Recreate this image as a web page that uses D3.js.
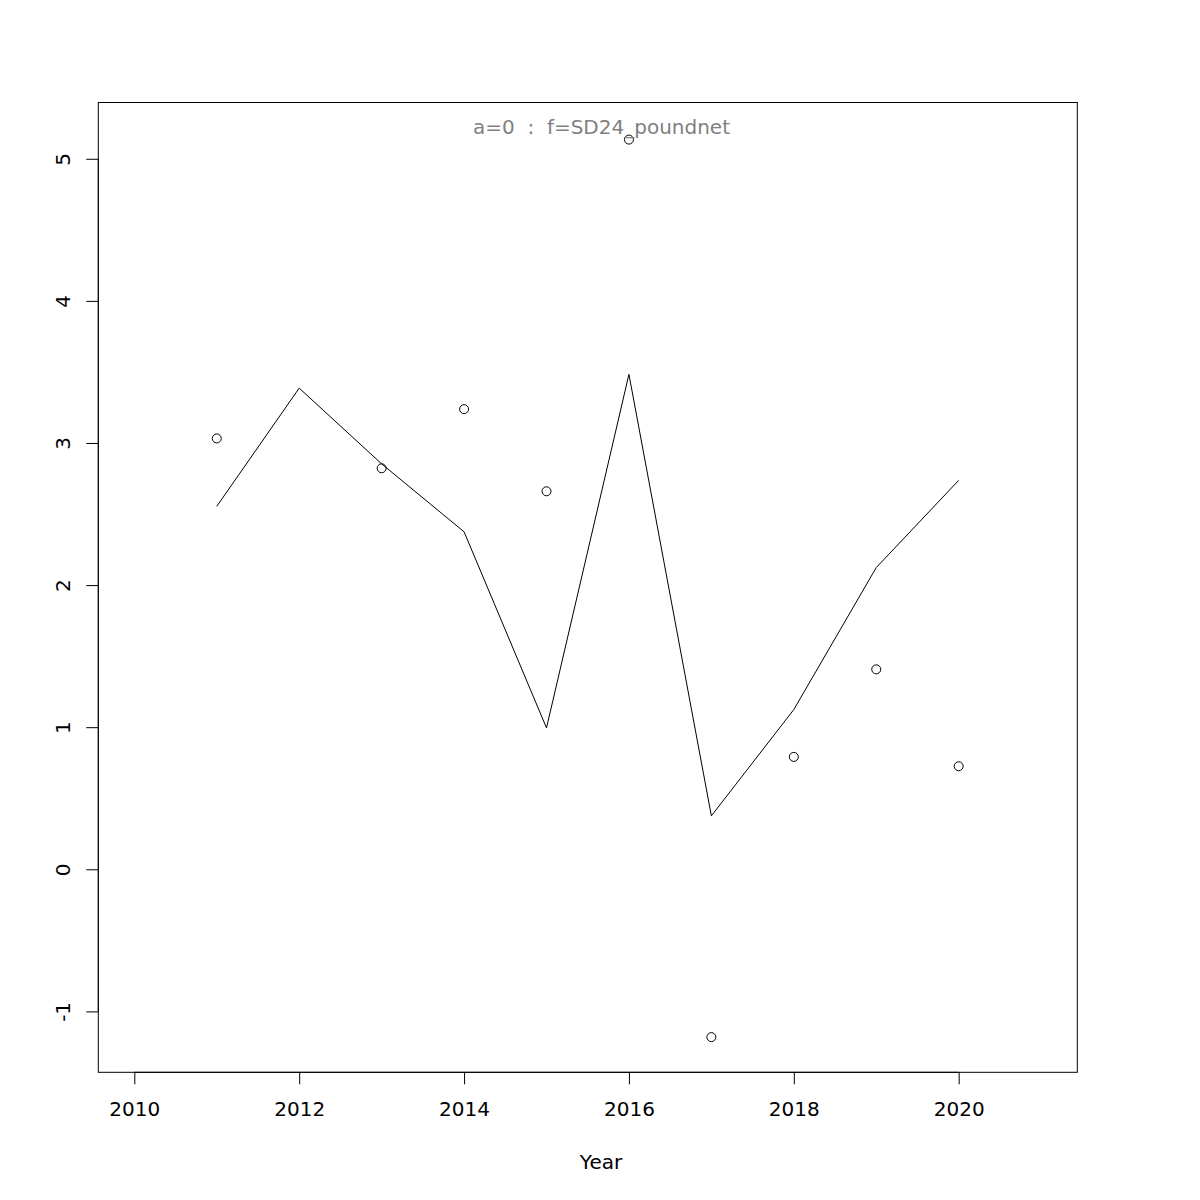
<!DOCTYPE html>
<html>
<head>
<meta charset="utf-8">
<script src="https://cdn.jsdelivr.net/npm/d3@7"></script>
<style>
  html, body { margin: 0; padding: 0; background: #fff; }
  svg { display: block; }
  text { font-family: "DejaVu Sans", sans-serif; }
</style>
</head>
<body>
<svg id="chart" width="1200" height="1200"></svg>
<script>
// ---- data ----
const pointYears = [2011, 2013, 2014, 2015, 2016, 2017, 2018, 2019, 2020];
const pointValues = [3.032, 2.822, 3.238, 2.660, 5.135, -1.181, 0.791, 1.407, 0.725];
const lineYears = [2011, 2012, 2013, 2014, 2015, 2016, 2017, 2018, 2019, 2020];
const lineValues = [2.554, 3.386, 2.853, 2.375, 0.995, 3.483, 0.376, 1.124, 2.123, 2.737];
const xTicks = [2010, 2012, 2014, 2016, 2018, 2020];
const yTicks = [-1, 0, 1, 2, 3, 4, 5];
const titleText = "a=0  :  f=SD24_poundnet";
const xLabel = "Year";

(function () {
// ---- layout ----
const pLeft = 98.3, pRight = 1077.3, pTop = 102.5, pBottom = 1072.3;
const svg = d3.select("#chart");

const x = d3.scaleLinear().domain([2009.563, 2021.439]).range([pLeft, pRight]);
const y = d3.scaleLinear().domain([-1.4286, 5.396]).range([pBottom, pTop]);

// plot box
svg.append("rect")
  .attr("x", pLeft).attr("y", pTop)
  .attr("width", pRight - pLeft).attr("height", pBottom - pTop)
  .attr("fill", "none").attr("stroke", "#000").attr("stroke-width", 1);

// x axis
const gx = svg.append("g").attr("transform", `translate(0,${pBottom})`)
  .call(d3.axisBottom(x).tickValues(xTicks).tickSize(12).tickSizeOuter(0).tickFormat(d3.format("d")));
gx.select(".domain").remove();
gx.append("line")
  .attr("x1", x(xTicks[0])).attr("x2", x(xTicks[xTicks.length - 1]))
  .attr("y1", 0).attr("y2", 0).attr("stroke", "#000");
gx.selectAll(".tick line").attr("stroke", "#000");
gx.selectAll(".tick text")
  .attr("y", 44).attr("dy", null)
  .attr("font-size", 20).attr("fill", "#000")
  .style("font-family", "DejaVu Sans");

// y axis
const gy = svg.append("g").attr("transform", `translate(${pLeft},0)`)
  .call(d3.axisLeft(y).tickValues(yTicks).tickSize(12).tickSizeOuter(0).tickFormat(d3.format("d")));
gy.select(".domain").remove();
gy.append("line")
  .attr("x1", 0).attr("x2", 0)
  .attr("y1", y(yTicks[0])).attr("y2", y(yTicks[yTicks.length - 1])).attr("stroke", "#000");
gy.selectAll(".tick line").attr("stroke", "#000");
gy.selectAll(".tick text")
  .attr("x", null).attr("dy", null)
  .attr("transform", "translate(-28,0) rotate(-90)")
  .attr("text-anchor", "middle")
  .attr("font-size", 20).attr("fill", "#000")
  .style("font-family", "DejaVu Sans")
  .text(d => String(d));

// line
const lineData = lineYears.map((yr, i) => [yr, lineValues[i]]);
svg.append("path")
  .datum(lineData)
  .attr("fill", "none").attr("stroke", "#000").attr("stroke-width", 1)
  .attr("d", d3.line().x(d => x(d[0])).y(d => y(d[1])));

// points
const ptData = pointYears.map((yr, i) => [yr, pointValues[i]]);
svg.append("g").selectAll("circle")
  .data(ptData).join("circle")
  .attr("cx", d => x(d[0])).attr("cy", d => y(d[1]))
  .attr("r", 4.5)
  .attr("fill", "none").attr("stroke", "#000").attr("stroke-width", 1);

// title
svg.append("text")
  .attr("x", 601.5).attr("y", 134)
  .attr("text-anchor", "middle")
  .attr("font-size", 20).attr("fill", "#808080")
  .style("white-space", "pre")
  .text(titleText);

// x label
svg.append("text")
  .attr("x", 601).attr("y", 1169)
  .attr("text-anchor", "middle")
  .attr("font-size", 20).attr("fill", "#000")
  .text(xLabel);
})();
</script>
</body>
</html>
